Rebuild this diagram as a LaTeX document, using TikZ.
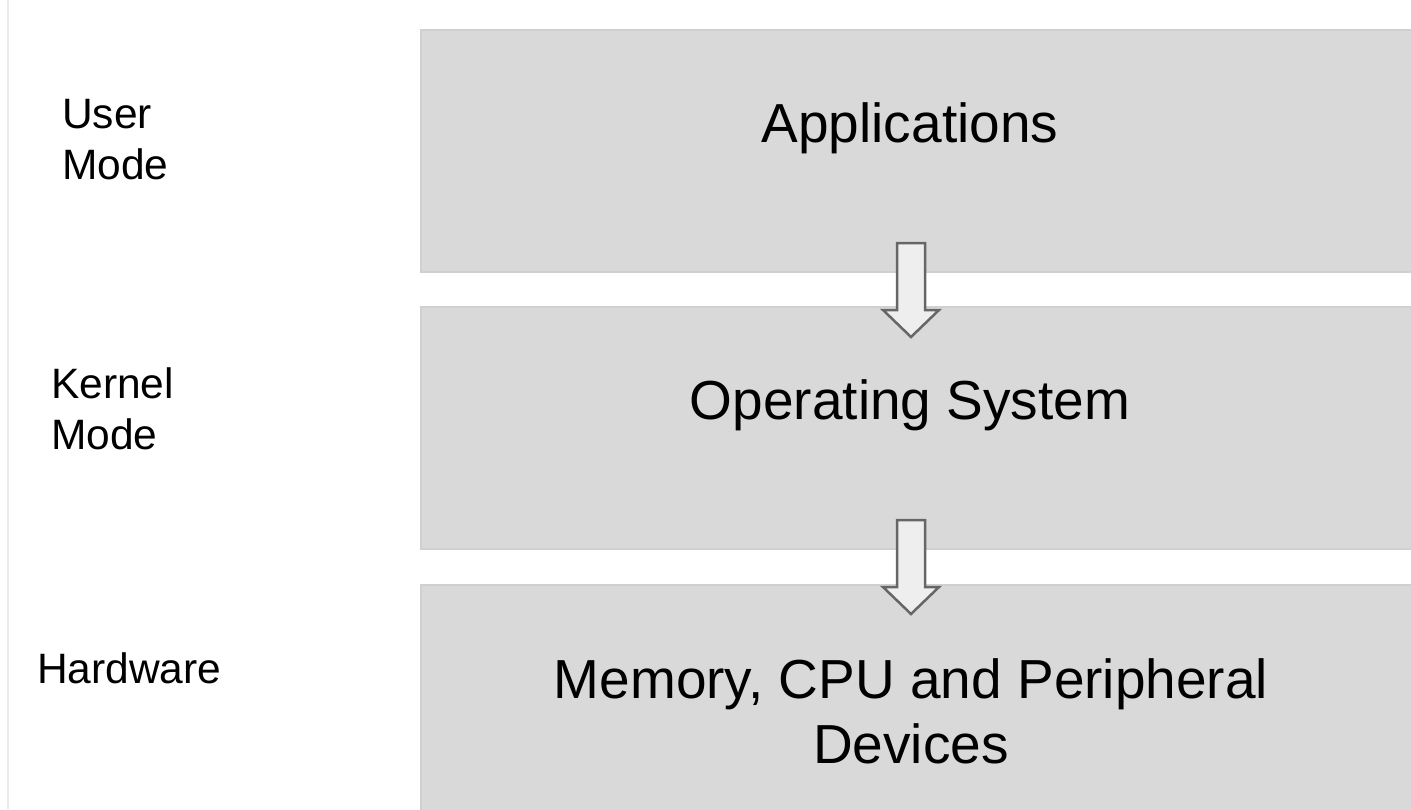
\documentclass[tikz,border=0pt]{standalone}
\usepackage{fontspec}
\setmainfont{Liberation Sans}
\usetikzlibrary{calc}
\definecolor{boxfill}{HTML}{D9D9D9}
\definecolor{boxedge}{HTML}{D0D0D0}
\definecolor{arrowfill}{HTML}{EEEEEE}
\definecolor{arrowedge}{HTML}{666666}
\definecolor{sideline}{HTML}{EBEBEB}
\begin{document}
\begin{tikzpicture}[x=1pt,y=-1pt,
  layerbox/.style={fill=boxfill,draw=boxedge,line width=1.5pt},
  bigtext/.style={font=\fontsize{55}{65}\selectfont,anchor=base,align=center,inner sep=0pt},
  sidelabel/.style={font=\fontsize{42.5}{51}\selectfont,anchor=base west,align=left,inner sep=0pt},
  blockarrow/.style={fill=arrowfill,draw=arrowedge,line width=2.5pt,line join=miter}]
\useasboundingbox (0,0) rectangle (1411,809);
\fill[white] (0,0) rectangle (1411,809);
\draw[sideline,line width=1.5pt] (8,0) -- (8,809);
% layers
\draw[layerbox] (421,30) rectangle (1420,272);
\draw[layerbox] (421,307) rectangle (1420,549);
\draw[layerbox] (421,585) rectangle (1420,820);
% block arrows
\coordinate (a1) at (911,243);
\coordinate (a2) at (911,520);
\foreach \c in {a1,a2}{
  \draw[blockarrow] ($(\c)+(-14,0)$) -- ($(\c)+(14,0)$) -- ($(\c)+(14,67)$) -- ($(\c)+(28,67)$)
    -- ($(\c)+(0,94)$) -- ($(\c)+(-28,67)$) -- ($(\c)+(-14,67)$) -- cycle;
}
% texts
\node[bigtext] (apps) at (910,142) {Applications};
\node[bigtext] (os) at (910,419) {Operating System};
\node[bigtext] (hw1) at (911,698) {Memory, CPU and Peripheral};
\node[bigtext] (hw2) at (911,763) {Devices};
\node[sidelabel] (user) at (62,179) {User\\Mode};
\node[sidelabel] (kernel) at (51,449) {Kernel\\Mode};
\node[sidelabel] (hard) at (37,683) {Hardware};
\end{tikzpicture}
\end{document}
